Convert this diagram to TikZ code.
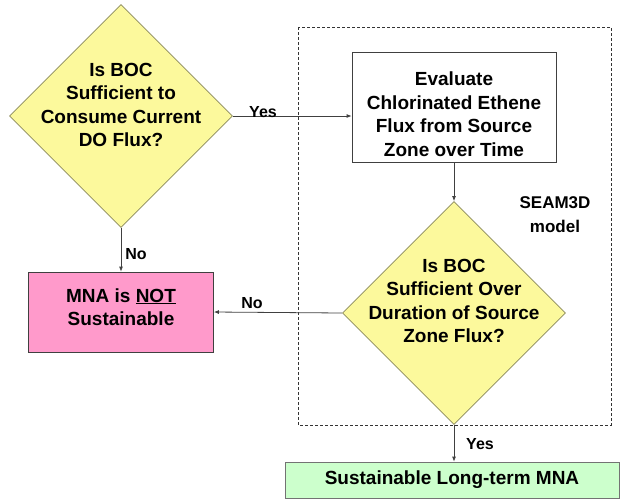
\documentclass[tikz,border=0pt]{standalone}
\usepackage{fontspec}
\setmainfont{Liberation Sans}
\usetikzlibrary{arrows.meta, shapes.geometric}

\definecolor{decyellow}{HTML}{FCF99C}
\definecolor{decborder}{HTML}{8A8A5C}
\definecolor{notpink}{HTML}{FF9ACB}
\definecolor{okgreen}{HTML}{CCFFCC}

\tikzset{
  txt/.style={font=\bfseries\fontsize{19}{23.5}\selectfont, align=center},
  lbl/.style={font=\bfseries\fontsize{16}{18}\selectfont},
  decision/.style={diamond, draw=decborder, fill=decyellow, line width=0.8pt,
    minimum width=223pt, minimum height=223pt, inner sep=0pt},
  block/.style={rectangle, draw=black!75, line width=0.8pt, inner sep=0pt},
  flow/.style={draw=black!75, line width=0.8pt, -{Latex[length=5pt,width=4pt]}}
}

\begin{document}
\begin{tikzpicture}[x=1pt, y=-1pt]
\useasboundingbox (0,0) rectangle (620,499);
%\draw[step=50,gray,very thin] (0,0) grid (620,499); %background grid

% model frame
\draw[black!80, dash pattern=on 3pt off 2pt] (298,27) rectangle (611,425);
\node[font=\bfseries\fontsize{17}{24}\selectfont, align=center] (seam) at (555,215) {SEAM3D\\model};

% boxes
\node[decision, label={[txt, yshift=11pt]center:Is BOC\\Sufficient to\\Consume Current\\DO Flux?}] (boc1) at (121,116) {};
\node[block, minimum width=204pt, minimum height=110pt, fill=white,
  label={[txt, yshift=-7pt]center:Evaluate\\Chlorinated Ethene\\Flux from Source\\Zone over Time}] (eval) at (454,107) {};
\node[decision, label={[txt, yshift=12pt]center:Is BOC\\Sufficient Over\\Duration of Source\\Zone Flux?}] (boc2) at (454,313) {};
\node[block, minimum width=185pt, minimum height=80pt, fill=notpink,
  label={[txt, yshift=5pt]center:MNA is \underline{NOT}\\Sustainable}] (notok) at (121,312) {};
\node[block, minimum width=334pt, minimum height=36pt, fill=okgreen, txt, draw=black!55] (ok) at (452,480) {Sustainable Long-term MNA};

% connectors
\draw[flow] (boc1.east) -- (boc1.east -| eval.west);
\draw[flow] (eval.south) -- (boc2.north);
\draw[flow] (boc1.south) -- (notok.north);
\draw[flow] (boc2.west) -- (notok.east);
\draw[flow] (boc2.south) -- (boc2.south |- ok.north);

% labels
\node[lbl] (yes1) at (263,112) {Yes};
\node[lbl] (no1) at (136,254) {No};
\node[lbl] (no2) at (252,303) {No};
\node[lbl] (yes2) at (480,444) {Yes};
\end{tikzpicture}
\end{document}
